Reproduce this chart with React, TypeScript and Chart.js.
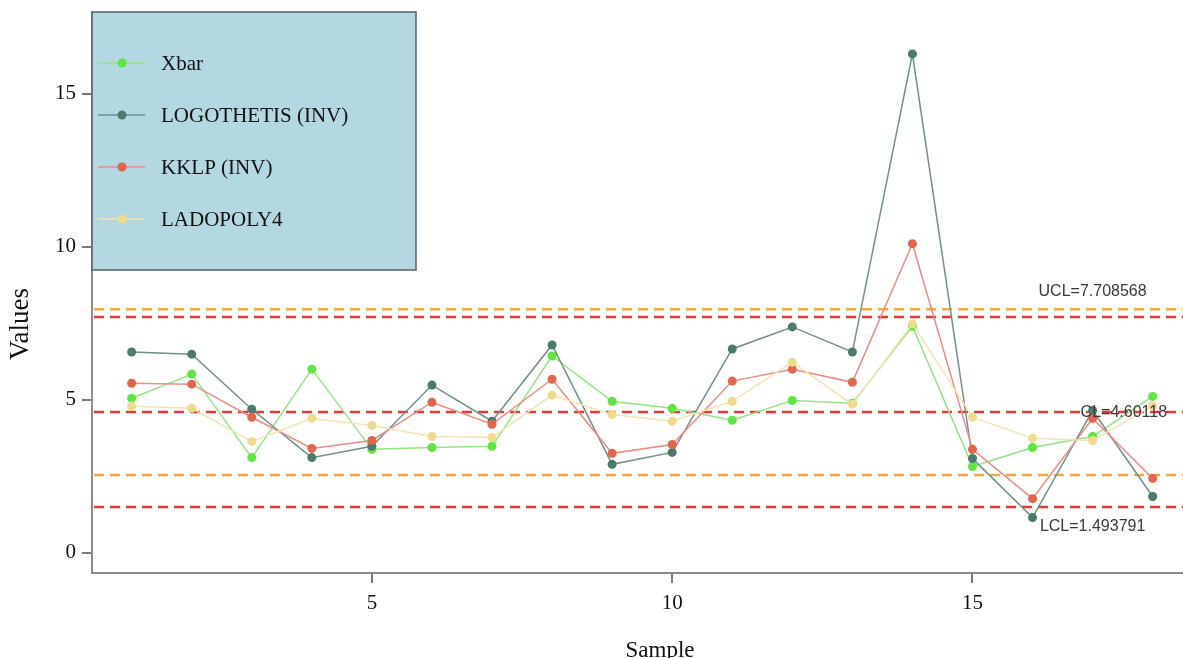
import { useEffect, useRef } from "react";
import { Chart, registerables } from "chart.js";

Chart.register(...registerables);

const samples = [1, 2, 3, 4, 5, 6, 7, 8, 9, 10, 11, 12, 13, 14, 15, 16, 17, 18];
const xbar = [5.05, 5.84, 3.11, 6.0, 3.38, 3.44, 3.48, 6.43, 4.95, 4.72, 4.33, 4.98, 4.89, 7.4, 2.82, 3.44, 3.8, 5.11];
const logothetis = [6.56, 6.49, 4.69, 3.11, 3.48, 5.48, 4.3, 6.79, 2.89, 3.28, 6.66, 7.38, 6.56, 16.3, 3.08, 1.15, 4.65, 1.84];
const kklp = [5.54, 5.51, 4.43, 3.41, 3.67, 4.92, 4.2, 5.67, 3.25, 3.54, 5.61, 6.0, 5.57, 10.1, 3.38, 1.77, 4.39, 2.43];
const ladopoly4 = [4.79, 4.72, 3.64, 4.39, 4.16, 3.8, 3.77, 5.15, 4.52, 4.3, 4.95, 6.23, 4.85, 7.48, 4.43, 3.74, 3.67, 4.8];

const seriesNames = ["Xbar", "LOGOTHETIS (INV)", "KKLP (INV)", "LADOPOLY4"];
const pointColors = ["#5fe640", "#4b7b6c", "#e3654b", "#eedb8c"];
const lineColors = ["#92e484", "#6f918a", "#e98d85", "#f2e4b2"];

const UCL = 7.708568;
const CL = 4.60118;
const LCL = 1.493791;
const upperWarn = 7.96;
const lowerWarn = 2.54;

const xTicks = [5, 10, 15];
const yTicks = [0, 5, 10, 15];

const limitLabels = [
  { text: "UCL=" + UCL, value: UCL, x: 17.0, dy: -25 },
  { text: "CL=" + CL, value: CL, x: 17.52, dy: 1 },
  { text: "LCL=" + LCL, value: LCL, x: 17.0, dy: 20 },
];

const allSeries = [xbar, logothetis, kklp, ladopoly4];

export default function App() {
  const ref = useRef<HTMLCanvasElement | null>(null);

  useEffect(() => {
    if (!ref.current) return;

    const overlay = {
      id: "overlay",
      beforeDatasetsDraw(chart: any) {
        const { ctx, chartArea, scales } = chart;
        const y = scales.y;
        const lines = [
          { v: upperWarn, c: "#f0a844" },
          { v: UCL, c: "#e8383a" },
          { v: CL, c: "#e8383a" },
          { v: lowerWarn, c: "#f0a844" },
          { v: LCL, c: "#e8383a" },
        ];
        ctx.save();
        ctx.lineWidth = 2.5;
        ctx.setLineDash([10, 6]);
        for (const l of lines) {
          const py = y.getPixelForValue(l.v);
          ctx.strokeStyle = l.c;
          ctx.beginPath();
          ctx.moveTo(chartArea.left + 2, py);
          ctx.lineTo(1183, py);
          ctx.stroke();
        }
        ctx.restore();
      },
      afterDatasetsDraw(chart: any) {
        const { ctx, scales } = chart;
        ctx.save();
        ctx.font = "16px 'Liberation Sans', Arial, sans-serif";
        ctx.fillStyle = "#3a3a3a";
        ctx.textAlign = "center";
        ctx.textBaseline = "middle";
        for (const lb of limitLabels) {
          ctx.fillText(lb.text, scales.x.getPixelForValue(lb.x), scales.y.getPixelForValue(lb.value) + lb.dy);
        }
        ctx.restore();
      },
      afterDraw(chart: any) {
        const { ctx, chartArea } = chart;
        ctx.save();
        // extend x axis line to the right edge
        ctx.strokeStyle = "#8a8a8a";
        ctx.lineWidth = 2;
        ctx.beginPath();
        ctx.moveTo(chartArea.right - 1, chartArea.bottom + 0);
        ctx.lineTo(1183, chartArea.bottom + 0);
        ctx.stroke();
        // legend box
        ctx.fillStyle = "#b4d8e2";
        ctx.fillRect(92, 12, 324, 258);
        ctx.strokeStyle = "#5a6066";
        ctx.lineWidth = 1.5;
        ctx.strokeRect(92, 12, 324, 258);
        ctx.font = "21px 'Liberation Serif', 'Times New Roman', serif";
        ctx.textBaseline = "middle";
        ctx.textAlign = "left";
        seriesNames.forEach((name, i) => {
          const cy = 63 + i * 52;
          ctx.strokeStyle = lineColors[i];
          ctx.lineWidth = 1.5;
          ctx.beginPath();
          ctx.moveTo(98, cy);
          ctx.lineTo(145, cy);
          ctx.stroke();
          ctx.fillStyle = pointColors[i];
          ctx.beginPath();
          ctx.arc(122, cy, 4.5, 0, Math.PI * 2);
          ctx.fill();
          ctx.fillStyle = "#111";
          ctx.fillText(name, 161, cy + 1);
        });
        // axis titles
        ctx.fillStyle = "#111";
        ctx.textAlign = "center";
        ctx.font = "23px 'Liberation Serif', 'Times New Roman', serif";
        ctx.fillText("Sample", 660, 651);
        ctx.save();
        ctx.translate(21, 324);
        ctx.rotate(-Math.PI / 2);
        ctx.font = "27px 'Liberation Serif', 'Times New Roman', serif";
        ctx.fillText("Values", 0, 0);
        ctx.restore();
        ctx.restore();
      },
    };

    const chart = new Chart(ref.current, {
      type: "line",
      data: {
        datasets: allSeries.map((vals, i) => ({
          label: seriesNames[i],
          data: samples.map((s, j) => ({ x: s, y: vals[j] })),
          borderColor: lineColors[i],
          backgroundColor: pointColors[i],
          pointBackgroundColor: pointColors[i],
          pointBorderColor: pointColors[i],
          pointRadius: 4.5,
          pointBorderWidth: 0,
          borderWidth: 1.5,
          tension: 0,
          order: 4 - i,
        })),
      },
      options: {
        animation: false,
        responsive: false,
        devicePixelRatio: 1,
        layout: { padding: { top: 12, right: 0, left: 0, bottom: 0 } },
        plugins: { legend: { display: false }, tooltip: { enabled: false } },
        scales: {
          x: {
            type: "linear",
            min: 0.34,
            max: 18.43,
            afterBuildTicks: (s: any) => {
              s.ticks = xTicks.map((v) => ({ value: v }));
            },
            afterFit: (s: any) => {
              s.height = 85;
              s.paddingLeft = 0;
              s.paddingRight = 0;
            },
            grid: { drawOnChartArea: false, drawTicks: true, tickLength: 10, color: "#7a7a7a", lineWidth: 2 },
            border: { display: true, color: "#8a8a8a", width: 2 },
            ticks: {
              font: { family: "'Liberation Serif', 'Times New Roman', serif", size: 21 },
              color: "#111",
              padding: 8,
              maxRotation: 0,
              autoSkip: false,
            },
          },
          y: {
            type: "linear",
            min: -0.66,
            max: 17.67,
            afterBuildTicks: (s: any) => {
              s.ticks = yTicks.map((v) => ({ value: v }));
            },
            afterFit: (s: any) => {
              s.width = 92;
              s.paddingTop = 0;
              s.paddingBottom = 0;
            },
            grid: { drawOnChartArea: false, drawTicks: true, tickLength: 10, color: "#7a7a7a", lineWidth: 2 },
            border: { display: true, color: "#8a8a8a", width: 2 },
            ticks: {
              font: { family: "'Liberation Serif', 'Times New Roman', serif", size: 21 },
              color: "#111",
              padding: 6,
              autoSkip: false,
            },
          },
        },
      },
      plugins: [overlay],
    } as any);

    return () => chart.destroy();
  }, []);

  return (
    <div style={{ position: "fixed", left: 0, top: 0, width: 1183, height: 658, background: "#fff" }}>
      <canvas ref={ref} width={1183} height={658} style={{ display: "block", width: 1183, height: 658 }} />
    </div>
  );
}
